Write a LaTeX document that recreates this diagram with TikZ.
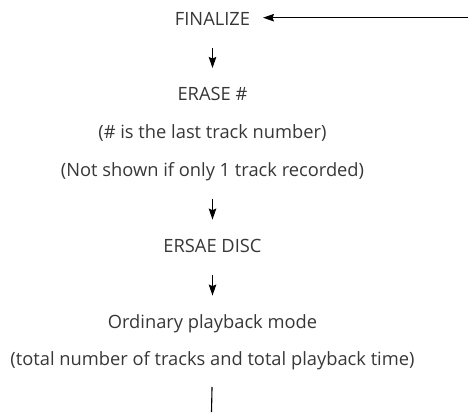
\documentclass[tikz,border=0pt]{standalone}
\usepackage{fontspec}
\setmainfont{Open Sans}
\usetikzlibrary{arrows.meta}
\definecolor{txtgray}{RGB}{55,55,55}
\tikzset{
  lbl/.style={anchor=base, inner sep=0pt, text height=0pt, text depth=0pt, text=txtgray, font=\fontsize{18.3}{20}\selectfont},
  arr/.style={line width=1.1pt, -{Stealth[length=11pt,width=7.5pt,inset=1.5pt]}},
  vline/.style={line width=1.1pt}
}
\begin{document}
\begin{tikzpicture}[x=1pt,y=1pt]
\useasboundingbox (0,0) rectangle (468,-412);
\node[lbl] (fin) at (212.5,-26) {FINALIZE};
\node[lbl] (era) at (212.5,-100.7) {ERASE \#};
\node[lbl] (last) at (212.5,-138.7) {(\# is the last track number)};
\node[lbl] (note) at (212.5,-176.7) {(Not shown if only 1 track recorded)};
\node[lbl] (disc) at (212.5,-252.3) {ERSAE DISC};
\node[lbl] (ord) at (212.5,-328.3) {Ordinary playback mode};
\node[lbl] (tot) at (212.5,-365) {(total number of tracks and total playback time)};
\coordinate (in) at (468,-17.7);
\coordinate (out) at (211.5,-412);
\draw[arr] (in) -- (263,-17.7);
\draw[arr, shorten <=21.5pt, shorten >=32pt] (fin) -- (era);
\draw[arr, shorten <=21.5pt, shorten >=32pt] (note) -- (disc);
\draw[arr, shorten <=21.5pt, shorten >=32pt] (disc) -- (ord);
\draw[vline, shorten <=22pt] (tot.base) -- (out);
\end{tikzpicture}
\end{document}
